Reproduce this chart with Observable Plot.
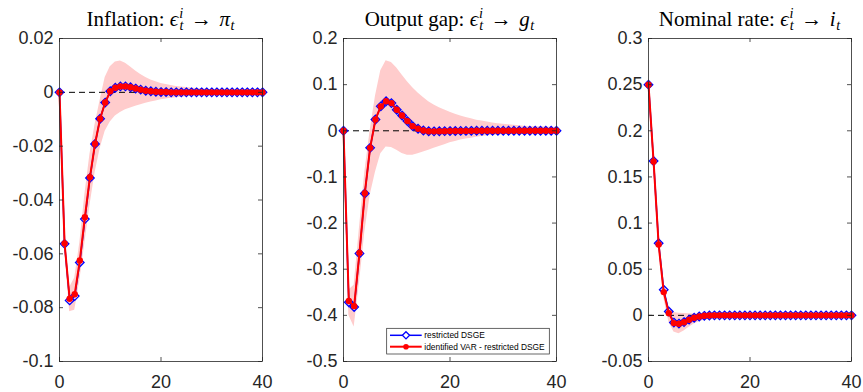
<!DOCTYPE html>
<html>
<head>
<meta charset="utf-8">
<script src="https://cdn.jsdelivr.net/npm/d3@7"></script>
<script src="https://cdn.jsdelivr.net/npm/@observablehq/plot@0.6"></script>
<style>
  body { margin: 0; background: #fff; }
  #fig { position: relative; width: 863px; height: 392px; overflow: hidden; background: #fff; }
  .panel { position: absolute; top: 0; }
  .title {
    position: absolute; top: 9px; transform: translateX(-50%);
    font-family: "Liberation Serif", "Times New Roman", serif; font-size: 21px;
    line-height: 21px; color: #000; white-space: nowrap;
  }
  .title i { font-style: italic; }
  .title .sup, .title .sub { font-size: 0.68em; line-height: 0; position: relative; font-style: italic; }
  .title .sup { top: -0.55em; margin-left: 0.06em; }
  .title .sub { top: 0.3em; margin-left: 0.04em; }
  .title .ar { margin: 0 0.36em; }
</style>
</head>
<body>
<div id="fig"></div>
<script>
// Impulse responses to a monetary policy shock, horizons 0..40
const horizon = [0,1,2,3,4,5,6,7,8,9,10,11,12,13,14,15,16,17,18,19,20,21,22,23,24,25,26,27,28,29,30,31,32,33,34,35,36,37,38,39,40];

// Inflation
const infDsge = [0,-0.0563,-0.0773,-0.0757,-0.0632,-0.0471,-0.0318,-0.0192,-0.0098,-0.0038,
  0.0004,0.0017,0.0022,0.0022,0.0019,0.0014,0.0010,0.0006,0.0004,0.0002,
  0.0001,0.0001,0,0,0,0,0,0,0,0,
  0,0,0,0,0,0,0,0,0,0,0];
const infVar = [0,-0.0561,-0.0767,-0.0750,-0.0625,-0.0464,-0.0315,-0.0191,-0.0098,-0.0038,
  0.0004,0.0017,0.0022,0.0022,0.0019,0.0014,0.0010,0.0006,0.0004,0.0002,
  0.0001,0.0001,0,0,0,0,0,0,0,0,
  0,0,0,0,0,0,0,0,0,0,0];
const infLo = [0,-0.058,-0.0815,-0.081,-0.070,-0.056,-0.042,-0.030,-0.021,-0.0145,
  -0.011,-0.0088,-0.0075,-0.0065,-0.0058,-0.0052,-0.0046,-0.0041,-0.0036,-0.0032,
  -0.0028,-0.0025,-0.0022,-0.0020,-0.0018,-0.0016,-0.0015,-0.0013,-0.0012,-0.0011,
  -0.0010,-0.0009,-0.0008,-0.0008,-0.0007,-0.0006,-0.0006,-0.0005,-0.0005,-0.0004,-0.0004];
const infHi = [0,-0.054,-0.0725,-0.069,-0.056,-0.038,-0.023,-0.012,-0.003,0.0055,
  0.0095,0.0113,0.0116,0.0108,0.0094,0.0079,0.0066,0.0055,0.0046,0.0039,
  0.0033,0.0029,0.0025,0.0022,0.0020,0.0018,0.0016,0.0014,0.0013,0.0011,
  0.0010,0.0009,0.0008,0.0008,0.0007,0.0006,0.0006,0.0005,0.0005,0.0004,0.0004];

// Output gap
const gapDsge = [0,-0.3715,-0.3818,-0.266,-0.136,-0.037,0.0245,0.053,0.064,0.060,
  0.0455,0.033,0.021,0.010,0.0043,0.0006,-0.001,-0.0012,-0.001,-0.0008,
  -0.0006,-0.0004,-0.0003,-0.0002,-0.0001,0,0,0,0,0,
  0,0,0,0,0,0,0,0,0,0,0];
const gapVar = [0,-0.369,-0.380,-0.2645,-0.135,-0.037,0.0245,0.053,0.064,0.060,
  0.0455,0.033,0.021,0.010,0.0043,0.0006,-0.001,-0.0012,-0.001,-0.0008,
  -0.0006,-0.0004,-0.0003,-0.0002,-0.0001,0,0,0,0,0,
  0,0,0,0,0,0,0,0,0,0,0];
const gapLo = [0,-0.40,-0.425,-0.33,-0.22,-0.14,-0.09,-0.05,-0.035,-0.036,
  -0.042,-0.049,-0.053,-0.053,-0.050,-0.046,-0.042,-0.038,-0.034,-0.030,
  -0.026,-0.023,-0.020,-0.018,-0.016,-0.014,-0.0125,-0.011,-0.010,-0.009,
  -0.008,-0.0072,-0.0066,-0.006,-0.0055,-0.005,-0.0045,-0.004,-0.0036,-0.0033,-0.003];
const gapHi = [0,-0.345,-0.335,-0.21,-0.09,0.0,0.075,0.13,0.152,0.148,
  0.136,0.121,0.106,0.093,0.082,0.072,0.063,0.056,0.050,0.045,
  0.040,0.036,0.032,0.029,0.026,0.023,0.021,0.019,0.017,0.0155,
  0.014,0.013,0.012,0.011,0.010,0.0095,0.009,0.0085,0.008,0.0075,0.007];

// Nominal rate
const rateDsge = [0.25,0.1672,0.0782,0.0277,0.0042,-0.0078,-0.0089,-0.0073,-0.0047,-0.0026,
  -0.0012,-0.0005,-0.0002,0,0,0,0,0,0,0,
  0,0,0,0,0,0,0,0,0,0,
  0,0,0,0,0,0,0,0,0,0,0];
const rateVar = [0.25,0.1668,0.0768,0.0252,0.0024,-0.0084,-0.0091,-0.0075,-0.0048,-0.0026,
  -0.0012,-0.0005,-0.0002,0,0,0,0,0,0,0,
  0,0,0,0,0,0,0,0,0,0,
  0,0,0,0,0,0,0,0,0,0,0];
const rateLo = [0.248,0.163,0.072,0.019,-0.007,-0.018,-0.020,-0.017,-0.013,-0.0095,
  -0.007,-0.0052,-0.004,-0.003,-0.0022,-0.0016,-0.0012,-0.0009,-0.0007,-0.0005,
  -0.0004,-0.0003,-0.0002,-0.0002,-0.0001,-0.0001,0,0,0,0,
  0,0,0,0,0,0,0,0,0,0,0];
const rateHi = [0.252,0.171,0.082,0.031,0.009,0.003,0.0022,0.002,0.0018,0.0015,
  0.0012,0.001,0.0008,0.0006,0.0005,0.0004,0.0003,0.0002,0.0002,0.0001,
  0.0001,0,0,0,0,0,0,0,0,0,
  0,0,0,0,0,0,0,0,0,0,0];

// Axis ticks and their labels
const xTicks = [0, 20, 40];
const xTickLabels = ["0", "20", "40"];
const infTicks = [0.02, 0, -0.02, -0.04, -0.06, -0.08, -0.1];
const infTickLabels = ["0.02", "0", "-0.02", "-0.04", "-0.06", "-0.08", "-0.1"];
const gapTicks = [0.2, 0.1, 0, -0.1, -0.2, -0.3, -0.4, -0.5];
const gapTickLabels = ["0.2", "0.1", "0", "-0.1", "-0.2", "-0.3", "-0.4", "-0.5"];
const rateTicks = [0.3, 0.25, 0.2, 0.15, 0.1, 0.05, 0, -0.05];
const rateTickLabels = ["0.3", "0.25", "0.2", "0.15", "0.1", "0.05", "0", "-0.05"];

const seriesNames = ["restricted DSGE", "identified VAR - restricted DSGE"];

// MATLAB-style square diamond marker
const diamond = {
  draw(ctx, size) {
    const h = Math.sqrt(size / 2);
    ctx.moveTo(0, -h); ctx.lineTo(h, 0); ctx.lineTo(0, h); ctx.lineTo(-h, 0); ctx.closePath();
  }
};

const AXIS = "#262626";
const BLUE = "#0000ff";
const RED = "#ff0000";
const BAND = "#ffcccc";

const panels = [
  {left: 0,   width: 290, ml: 59, mr: 28, dsge: infDsge, vr: infVar, lo: infLo, hi: infHi,
   yDomain: [-0.1, 0.02], ticks: infTicks, labels: infTickLabels,
   title: 'Inflation: <i>ϵ</i><span class="sup">i</span><span class="sub" style="margin-left:-0.26em">t</span><span class="ar">→</span><i>π</i><span class="sub">t</span>'},
  {left: 290, width: 290, ml: 53, mr: 24, dsge: gapDsge, vr: gapVar, lo: gapLo, hi: gapHi,
   yDomain: [-0.5, 0.2], ticks: gapTicks, labels: gapTickLabels, legend: true,
   title: 'Output gap: <i>ϵ</i><span class="sup">i</span><span class="sub" style="margin-left:-0.26em">t</span><span class="ar">→</span><i>g</i><span class="sub">t</span>'},
  {left: 580, width: 283, ml: 68, mr: 12, dsge: rateDsge, vr: rateVar, lo: rateLo, hi: rateHi,
   yDomain: [-0.05, 0.3], ticks: rateTicks, labels: rateTickLabels,
   title: 'Nominal rate: <i>ϵ</i><span class="sup">i</span><span class="sub" style="margin-left:-0.26em">t</span><span class="ar">→</span><i>i</i><span class="sub">t</span>'}
];

const HEIGHT = 392, MT = 38, MB = 31, TICK = 4;
const fig = document.getElementById("fig");

for (const p of panels) {
  const rows = horizon.map((t, i) => ({t, dsge: p.dsge[i], vr: p.vr[i], lo: p.lo[i], hi: p.hi[i]}));
  const innerW = p.width - p.ml - p.mr;
  const innerH = HEIGHT - MT - MB;
  const xLab = new Map(xTicks.map((d, i) => [d, xTickLabels[i]]));
  const yLab = new Map(p.ticks.map((d, i) => [d, p.labels[i]]));

  const svg = Plot.plot({
    width: p.width, height: HEIGHT,
    marginLeft: p.ml, marginRight: p.mr, marginTop: MT, marginBottom: MB,
    x: {domain: [0, 40], label: null},
    y: {domain: p.yDomain, label: null},
    style: {fontFamily: '"Liberation Sans", Arial, Helvetica, sans-serif', fontSize: "18px", color: AXIS, background: "transparent", overflow: "visible"},
    marks: [
      Plot.areaY(rows, {x: "t", y1: "lo", y2: "hi", fill: BAND}),
      Plot.ruleY([0], {stroke: "#000", strokeWidth: 1, strokeDasharray: "6,4"}),
      Plot.line(rows, {x: "t", y: "dsge", stroke: BLUE, strokeWidth: 1.5}),
      Plot.dot(rows, {x: "t", y: "dsge", symbol: diamond, r: 3.4, stroke: BLUE, strokeWidth: 1.3, fill: "none"}),
      Plot.line(rows, {x: "t", y: "vr", stroke: RED, strokeWidth: 2}),
      Plot.dot(rows, {x: "t", y: "vr", r: 3.2, fill: RED}),
      Plot.frame({stroke: AXIS, strokeWidth: 0.8}),
      Plot.tickX(xTicks, {x: d => d, insetBottom: innerH - TICK, stroke: AXIS, strokeWidth: 0.8}),
      Plot.tickX(xTicks, {x: d => d, insetTop: innerH - TICK, stroke: AXIS, strokeWidth: 0.8}),
      Plot.tickY(p.ticks, {y: d => d, insetRight: innerW - TICK, stroke: AXIS, strokeWidth: 0.8}),
      Plot.tickY(p.ticks, {y: d => d, insetLeft: innerW - TICK, stroke: AXIS, strokeWidth: 0.8}),
      Plot.axisX(xTicks, {label: null, tickSize: 0, tickPadding: 14, tickFormat: d => xLab.get(d), fontSize: 18}),
      Plot.axisY(p.ticks, {label: null, tickSize: 0, tickPadding: 6, tickFormat: d => yLab.get(d), fontSize: 18})
    ]
  });
  svg.classList.add("panel");
  svg.style.left = p.left + "px";
  fig.appendChild(svg);

  if (p.legend) {
    // legend box in the lower right corner of the axes
    const g = d3.select(svg).append("g")
      .attr("font-family", '"Liberation Sans", Arial, sans-serif')
      .attr("font-size", 8.4)
      .attr("text-anchor", "start");
    const bw = 162.6, bh = 25.7;
    const bx = p.ml + innerW - bw - 6.7, by = MT + innerH - bh - 7;
    g.append("rect").attr("x", bx).attr("y", by).attr("width", bw).attr("height", bh)
      .attr("fill", "#fff").attr("stroke", AXIS).attr("stroke-width", 0.7);
    const entries = [
      {name: seriesNames[0], color: BLUE, sym: "diamond"},
      {name: seriesNames[1], color: RED, sym: "dot"}
    ];
    entries.forEach((e, i) => {
      const cy = by + 7 + i * 11.4;
      g.append("line").attr("x1", bx + 3.3).attr("x2", bx + 35).attr("y1", cy).attr("y2", cy)
        .attr("stroke", e.color).attr("stroke-width", e.sym === "dot" ? 2 : 1.5);
      const cx = bx + 19.3;
      if (e.sym === "diamond") {
        g.append("path").attr("d", `M${cx},${cy - 3.6}L${cx + 3.6},${cy}L${cx},${cy + 3.6}L${cx - 3.6},${cy}Z`)
          .attr("fill", "#fff").attr("stroke", e.color).attr("stroke-width", 1.3);
      } else {
        g.append("circle").attr("cx", cx).attr("cy", cy).attr("r", 2.8).attr("fill", e.color);
      }
      g.append("text").attr("x", bx + 37.6).attr("y", cy + 3).attr("fill", "#000")
        .attr("text-anchor", "start").attr("font-size", 8.4).text(e.name);
    });
  }

  const title = document.createElement("div");
  title.className = "title";
  title.style.left = (p.left + p.ml + innerW / 2) + "px";
  title.innerHTML = p.title;
  fig.appendChild(title);
}
</script>
</body>
</html>
